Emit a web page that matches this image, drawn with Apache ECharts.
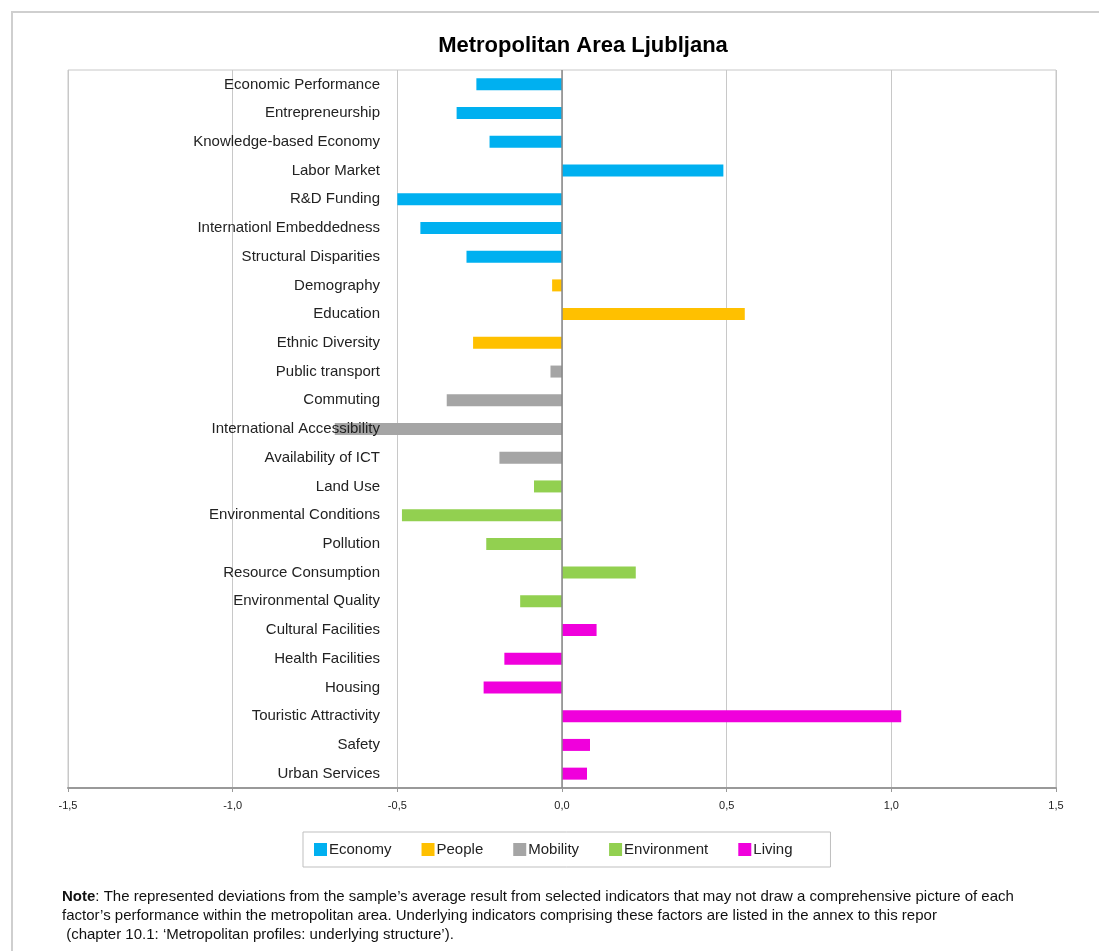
<!DOCTYPE html>
<html>
<head>
	<meta charset="UTF-8">
	<title>Metropolitan Area Ljubljana</title>
	<style>
		html, body { margin: 0; padding: 0; background: #fff; }
	</style>
</head>
<body>
	<div id="chart" style="width: 1099px; height: 951px;"></div>
	<script src="https://cdn.jsdelivr.net/npm/echarts@6/dist/echarts.min.js"></script>
	<script type="text/javascript">
		// factor names, top to bottom
		var categories = [
			'Economic Performance', 'Entrepreneurship', 'Knowledge-based Economy', 'Labor Market',
			'R&D Funding', 'Internationl Embeddedness', 'Structural Disparities',
			'Demography', 'Education', 'Ethnic Diversity',
			'Public transport', 'Commuting', 'International Accessibility', 'Availability of ICT',
			'Land Use', 'Environmental Conditions', 'Pollution', 'Resource Consumption', 'Environmental Quality',
			'Cultural Facilities', 'Health Facilities', 'Housing', 'Touristic Attractivity', 'Safety', 'Urban Services'
		];
		var groups = ['Economy', 'People', 'Mobility', 'Environment', 'Living'];
		// deviations per group, in the same order as the categories
		var economy = [-0.26, -0.32, -0.22, 0.49, -0.50, -0.43, -0.29];
		var people = [-0.03, 0.555, -0.27];
		var mobility = [-0.035, -0.35, -0.69, -0.19];
		var environment = [-0.085, -0.486, -0.23, 0.224, -0.127];
		var living = [0.105, -0.175, -0.238, 1.03, 0.085, 0.076];
		var xTicks = ['-1,5', '-1,0', '-0,5', '0,0', '0,5', '1,0', '1,5'];

		var colors = ['#00b0f0', '#ffc000', '#a5a5a5', '#92d050', '#f000dc'];
		var font = '"Liberation Sans", Arial, sans-serif';

		// each group fills its own rows, other rows stay empty
		var allValues = [economy, people, mobility, environment, living];
		var series = [];
		var offset = 0;
		for (var g = 0; g < allValues.length; g++) {
			var data = [];
			for (var i = 0; i < categories.length; i++) {
				var k = i - offset;
				data.push(k >= 0 && k < allValues[g].length ? allValues[g][k] : '-');
			}
			offset += allValues[g].length;
			series.push({
				name: groups[g],
				type: 'bar',
				data: data,
				barWidth: 12,
				barGap: '-100%',
				itemStyle: { color: colors[g] }
			});
		}
		// vertical zero line
		series[0].markLine = {
			silent: true,
			symbol: 'none',
			label: { show: false },
			lineStyle: { color: '#888', width: 1.5, type: 'solid' },
			data: [{ xAxis: 0 }],
			z: 4
		};

		var my_chart = echarts.init(document.getElementById('chart'));
		var option = {
			backgroundColor: '#fff',
			animation: false,
			title: {
				text: 'Metropolitan Area Ljubljana',
				left: 578,
				textAlign: 'center',
				top: 30,
				textStyle: {
					fontFamily: font,
					fontSize: 22,
					fontWeight: 'bold',
					color: '#000'
				}
			},
			legend: {
				data: groups,
				icon: 'rect',
				left: 303,
				top: 832,
				padding: [10, 38, 10, 11],
				itemGap: 30,
				itemWidth: 13,
				itemHeight: 13,
				borderColor: '#bfbfbf',
				borderWidth: 1,
				textStyle: { fontFamily: font, fontSize: 15, color: '#222', padding: [0, 0, 0, -3] }
			},
			grid: {
				left: 68,
				right: 43,
				top: 70,
				bottom: 163,
				containLabel: false,
				outerBoundsMode: 'none',
				show: true,
				borderColor: '#c8c8c8',
				borderWidth: 1
			},
			xAxis: {
				type: 'value',
				min: -1.5,
				max: 1.5,
				interval: 0.5,
				axisLine: { show: true, onZero: false, lineStyle: { color: '#999', width: 2 } },
				axisTick: { show: true, length: 4, lineStyle: { color: '#999' } },
				splitLine: { show: true, lineStyle: { color: '#c8c8c8', width: 1 } },
				axisLabel: {
					margin: 12,
					fontFamily: font,
					fontSize: 11,
					color: '#222',
					formatter: function (v) {
						return xTicks[Math.round((v + 1.5) / 0.5)];
					}
				}
			},
			yAxis: {
				type: 'category',
				data: categories,
				inverse: true,
				z: 5,
				axisLine: { show: false, onZero: false },
				axisTick: { show: false },
				axisLabel: {
					margin: -312,
					hideOverlap: false,
					fontFamily: font,
					fontSize: 15,
					color: '#222'
				}
			},
			graphic: [
				{
					type: 'polyline',
					shape: { points: [[12, 951], [12, 12], [1099, 12]] },
					style: { stroke: '#cfcfcf', lineWidth: 2, fill: null }
				},
				{
					type: 'text',
					left: 62,
					top: 887,
					style: {
						text: '{b|Note}: The represented deviations from the sample\u2019s average result from selected indicators that may not draw a comprehensive picture of each\n' +
							'factor\u2019s performance within the metropolitan area. Underlying indicators comprising these factors are listed in the annex to this repor\n' +
							' (chapter 10.1: \u2018Metropolitan profiles: underlying structure\u2019).',
						font: '15px ' + font,
						fill: '#111',
						lineHeight: 19,
						rich: {
							b: { fontWeight: 'bold', fontSize: 15, fontFamily: font, fill: '#111' }
						}
					}
				}
			],
			series: series
		};
		my_chart.setOption(option);
	</script>
</body>
</html>
